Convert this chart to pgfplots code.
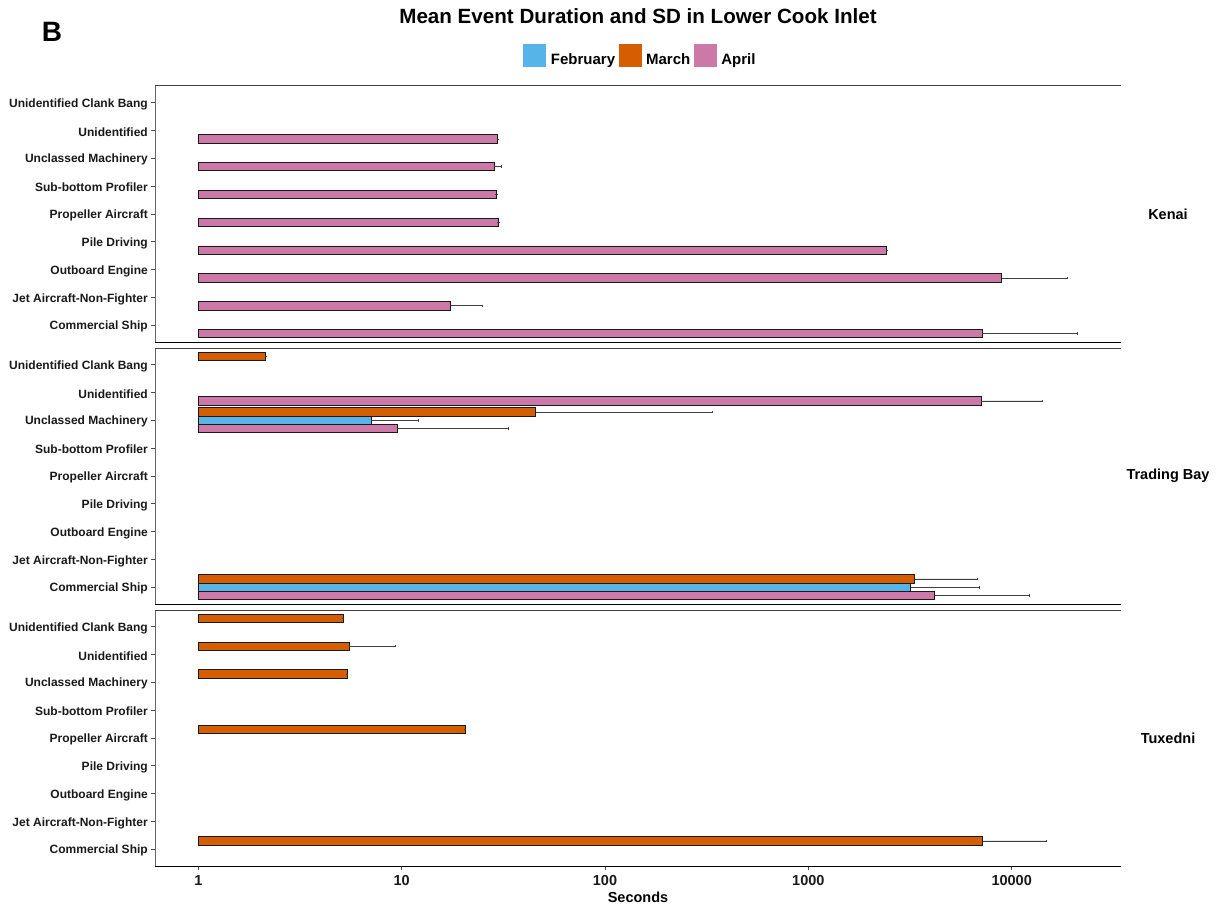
\documentclass[border=0pt]{standalone}
\usepackage{fontspec}
\setmainfont{Liberation Sans}
\usepackage{pgfplots}
\usepackage{pgfplotstable}
\pgfplotsset{compat=1.18}
\definecolor{feb}{HTML}{56B4E9}
\definecolor{mar}{HTML}{D55E00}
\definecolor{apr}{HTML}{CC79A7}

% y: category position (1 = Commercial Ship ... 9 = Unidentified Clank Bang)
% March at +0.3, February at 0, April at -0.3 ; x = mean seconds ; e = SD
% The x axis shows log10(seconds); bars start at 1 second.
\pgfplotstableread{
y x e
7.7 29.7 0
6.7 28.5 2.3
5.7 29.3 0
4.7 30.0 0
3.7 2428 0
2.7 8930 9840
1.7 17.4 7.4
0.7 7145 13800
}\kenaiApr
\pgfplotstableread{
y x e
9.3 2.15 0
7.3 45.6 290
1.3 3334 3396
}\tbMar
\pgfplotstableread{
y x e
7.0 7.07 4.93
1.0 3187 3697
}\tbFeb
\pgfplotstableread{
y x e
7.7 7060 7030
6.7 9.56 23.7
0.7 4181 7949
}\tbApr
\pgfplotstableread{
y x e
9.3 5.15 0
8.3 5.53 3.78
7.3 5.39 0
5.3 20.5 0
1.3 7203 7537
}\tuxMar

\pgfplotsset{
  mypanel/.style={
    scale only axis, width=965.7pt, height=256pt,
    xmin=-0.2115, xmax=4.5375,
    ymin=0.4, ymax=9.6,
    ytick={1,2,3,4,5,6,7,8,9},
    yticklabels={Commercial Ship,Jet Aircraft-Non-Fighter,Outboard Engine,Pile Driving,Propeller Aircraft,Sub-bottom Profiler,Unclassed Machinery,Unidentified,Unidentified Clank Bang},
    axis x line*=bottom, axis y line*=left,
    x axis line style={-, black, line width=1pt},
    y axis line style={-, black!60, line width=1pt},
    tick align=outside, major tick length=4pt,
    tick style={black!70, line width=0.8pt},
    yticklabel style={font=\fontsize{12}{14}\selectfont\bfseries, text=black!90, yshift=-1.5pt},
    xticklabel style={font=\fontsize{14.5}{16}\selectfont\bfseries, text=black!90, yshift=-2pt},
  },
  mybar/.style={xbar, bar width=0.3, draw=black!90, line width=0.9pt},
  legfeb/.style={legend image code/.code={\fill[feb, draw=none] (0pt,-7.2pt) rectangle (23pt,15.8pt); \path[draw=none, fill=none] (0pt,0pt) rectangle (24pt,0.1pt);}},
  legmar/.style={legend image code/.code={\fill[mar, draw=none] (0pt,-7.2pt) rectangle (23pt,15.8pt); \path[draw=none, fill=none] (0pt,0pt) rectangle (24pt,0.1pt);}},
  legapr/.style={legend image code/.code={\fill[apr, draw=none] (0pt,-7.2pt) rectangle (23pt,15.8pt); \path[draw=none, fill=none] (0pt,0pt) rectangle (24pt,0.1pt);}},
}

\begin{document}
\begin{tikzpicture}
\path[use as bounding box] (0pt,0pt) rectangle (1217pt,-904pt);

% Kenai
\begin{axis}[mypanel, name=kenai, at={(155.3pt,-86pt)}, anchor=north west, xtick=\empty,
  legend columns=3,
  legend style={at={(0.5024,1.119)}, anchor=center, draw=none, fill=none,
    column sep=1.5pt,
    font=\fontsize{15}{17}\selectfont\bfseries},
  legend cell align=left]
\addlegendimage{legfeb}
\addlegendentry{February}
\addlegendimage{legmar}
\addlegendentry{March}
\addlegendimage{legapr}
\addlegendentry{April}
\addplot[mybar, fill=apr, forget plot,
  error bars/.cd, x dir=plus, x explicit,
  error bar style={black!75, line width=0.7pt, mark size=1.2pt}]
  table[x expr={log10(\thisrow{x})}, y=y,
  x error expr={log10(\thisrow{x}+\thisrow{e})-log10(\thisrow{x})}] {\kenaiApr};
\end{axis}

% Trading Bay
\begin{axis}[mypanel, name=tb, at={(155.3pt,-348pt)}, anchor=north west, xtick=\empty]
\addplot[mybar, fill=mar,
  error bars/.cd, x dir=plus, x explicit,
  error bar style={black!75, line width=0.7pt, mark size=1.2pt}]
  table[x expr={log10(\thisrow{x})}, y=y,
  x error expr={log10(\thisrow{x}+\thisrow{e})-log10(\thisrow{x})}] {\tbMar};
\addplot[mybar, fill=feb,
  error bars/.cd, x dir=plus, x explicit,
  error bar style={black!75, line width=0.7pt, mark size=1.2pt}]
  table[x expr={log10(\thisrow{x})}, y=y,
  x error expr={log10(\thisrow{x}+\thisrow{e})-log10(\thisrow{x})}] {\tbFeb};
\addplot[mybar, fill=apr,
  error bars/.cd, x dir=plus, x explicit,
  error bar style={black!75, line width=0.7pt, mark size=1.2pt}]
  table[x expr={log10(\thisrow{x})}, y=y,
  x error expr={log10(\thisrow{x}+\thisrow{e})-log10(\thisrow{x})}] {\tbApr};
\end{axis}

% Tuxedni
\begin{axis}[mypanel, name=tux, at={(155.3pt,-610pt)}, anchor=north west,
  xtick={0,1,2,3,4}, xticklabels={1,10,100,1000,10000}]
\addplot[mybar, fill=mar,
  error bars/.cd, x dir=plus, x explicit,
  error bar style={black!75, line width=0.7pt, mark size=1.2pt}]
  table[x expr={log10(\thisrow{x})}, y=y,
  x error expr={log10(\thisrow{x}+\thisrow{e})-log10(\thisrow{x})}] {\tuxMar};
\end{axis}

\draw[black!75, line width=1pt] (kenai.north west) -- (kenai.north east);
\draw[black!75, line width=1pt] (tb.north west) -- (tb.north east);
\draw[black!75, line width=1pt] (tux.north west) -- (tux.north east);

\node[font=\fontsize{20.6}{24}\selectfont\bfseries, anchor=base] at (638pt,-24pt) {Mean Event Duration and SD in Lower Cook Inlet};
\node[font=\fontsize{28}{32}\selectfont\bfseries, anchor=base] at (52pt,-42pt) {B};
\node[font=\fontsize{14.5}{17}\selectfont\bfseries] at (1168pt,-214pt) {Kenai};
\node[font=\fontsize{14.5}{17}\selectfont\bfseries] at (1168pt,-476pt) {Trading Bay};
\node[font=\fontsize{14.5}{17}\selectfont\bfseries] at (1168pt,-738pt) {Tuxedni};
\node[font=\fontsize{14.5}{17}\selectfont\bfseries, anchor=base] at (638pt,-902pt) {Seconds};
\end{tikzpicture}
\end{document}
